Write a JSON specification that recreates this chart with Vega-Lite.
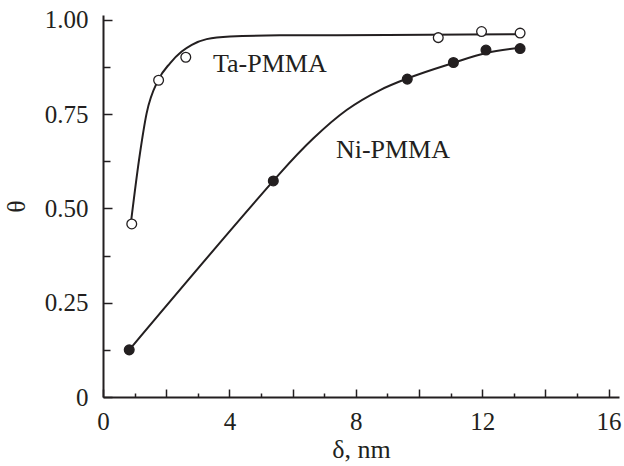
{
  "$schema": "https://vega.github.io/schema/vega-lite/v6.json",
  "width": 516,
  "height": 382,
  "autosize": "none",
  "padding": {"left": 103, "top": 15, "right": 5, "bottom": 69},
  "background": "white",
  "config": {
    "view": {"stroke": null},
    "font": "Liberation Serif",
    "axis": {
      "grid": false,
      "domainColor": "#231f20",
      "domainWidth": 2,
      "tickColor": "#231f20",
      "tickWidth": 1.5,
      "labelColor": "#231f20",
      "labelFont": "Liberation Serif",
      "labelFontSize": 25,
      "labelFlush": false,
      "labelOverlap": false,
      "titleColor": "#231f20",
      "titleFont": "Liberation Serif",
      "titleFontSize": 26,
      "titleFontWeight": "normal"
    }
  },
  "datasets": {
    "curves": [
      {"series": "Ta-PMMA", "x": 0.88, "y": 0.46},
      {"series": "Ta-PMMA", "x": 1.17, "y": 0.646},
      {"series": "Ta-PMMA", "x": 1.38, "y": 0.752},
      {"series": "Ta-PMMA", "x": 1.75, "y": 0.841},
      {"series": "Ta-PMMA", "x": 2.12, "y": 0.885},
      {"series": "Ta-PMMA", "x": 2.49, "y": 0.916},
      {"series": "Ta-PMMA", "x": 2.81, "y": 0.934},
      {"series": "Ta-PMMA", "x": 3.28, "y": 0.949},
      {"series": "Ta-PMMA", "x": 4.02, "y": 0.956},
      {"series": "Ta-PMMA", "x": 5.6, "y": 0.959},
      {"series": "Ta-PMMA", "x": 9.0, "y": 0.96},
      {"series": "Ta-PMMA", "x": 13.2, "y": 0.962},
      {"series": "Ni-PMMA", "x": 0.83, "y": 0.125},
      {"series": "Ni-PMMA", "x": 5.39, "y": 0.573},
      {"series": "Ni-PMMA", "x": 5.6, "y": 0.593},
      {"series": "Ni-PMMA", "x": 6.66, "y": 0.686},
      {"series": "Ni-PMMA", "x": 7.71, "y": 0.761},
      {"series": "Ni-PMMA", "x": 8.77, "y": 0.814},
      {"series": "Ni-PMMA", "x": 9.64, "y": 0.845},
      {"series": "Ni-PMMA", "x": 11.09, "y": 0.886},
      {"series": "Ni-PMMA", "x": 12.12, "y": 0.912},
      {"series": "Ni-PMMA", "x": 13.2, "y": 0.926}
    ],
    "points": [
      {"series": "Ta-PMMA", "x": 0.91, "y": 0.459},
      {"series": "Ta-PMMA", "x": 1.76, "y": 0.84},
      {"series": "Ta-PMMA", "x": 2.62, "y": 0.901},
      {"series": "Ta-PMMA", "x": 10.61, "y": 0.953},
      {"series": "Ta-PMMA", "x": 11.98, "y": 0.969},
      {"series": "Ta-PMMA", "x": 13.2, "y": 0.965},
      {"series": "Ni-PMMA", "x": 0.83, "y": 0.125},
      {"series": "Ni-PMMA", "x": 5.39, "y": 0.573},
      {"series": "Ni-PMMA", "x": 9.63, "y": 0.843},
      {"series": "Ni-PMMA", "x": 11.09, "y": 0.887},
      {"series": "Ni-PMMA", "x": 12.12, "y": 0.92},
      {"series": "Ni-PMMA", "x": 13.2, "y": 0.924}
    ],
    "labels": [
      {"text": "Ta-PMMA", "x": 3.48, "y": 0.862},
      {"text": "Ni-PMMA", "x": 7.37, "y": 0.633}
    ]
  },
  "layer": [
    {
      "data": {"name": "curves"},
      "mark": {"type": "point", "opacity": 0},
      "encoding": {
        "x": {"field": "x", "type": "quantitative", "scale": {"domain": [0, 16.33], "nice": false, "zero": false},
          "axis": {"orient": "bottom", "values": [1, 3, 5, 7, 9, 11, 13, 15], "tickSize": -4, "labels": false, "domain": false, "title": null}},
        "y": {"field": "y", "type": "quantitative", "scale": {"domain": [0, 1.013], "nice": false, "zero": false},
          "axis": {"orient": "left", "values": [0.125, 0.375, 0.625, 0.875], "tickSize": -7, "labels": false, "domain": false, "title": null}}
      }
    },
    {
      "data": {"name": "curves"},
      "mark": {"type": "line", "interpolate": "monotone", "color": "#231f20", "strokeWidth": 2},
      "encoding": {
        "x": {"field": "x", "type": "quantitative",
          "axis": {"orient": "bottom", "values": [0, 2, 4, 6, 8, 10, 12, 14, 16], "tickSize": -8, "labelExpr": "datum.value % 4 == 0 ? datum.label : ''", "labelPadding": 20, "title": "δ, nm", "titlePadding": 2}},
        "y": {"field": "y", "type": "quantitative",
          "axis": {"orient": "left", "values": [0, 0.25, 0.5, 0.75, 1.0], "tickSize": -9, "labelExpr": "datum.value == 0 ? '0' : format(datum.value, '.2f')", "labelPadding": 24, "title": "θ", "titlePadding": 15}},
        "detail": {"field": "series"}
      }
    },
    {
      "data": {"name": "points"},
      "mark": {"type": "point", "shape": "circle", "filled": true, "size": 95, "stroke": "#231f20", "strokeWidth": 1.3, "opacity": 1},
      "encoding": {
        "x": {"field": "x", "type": "quantitative", "axis": null},
        "y": {"field": "y", "type": "quantitative", "axis": null},
        "fill": {"field": "series", "type": "nominal", "scale": {"domain": ["Ta-PMMA", "Ni-PMMA"], "range": ["white", "#231f20"]}, "legend": null}
      }
    },
    {
      "data": {"name": "labels"},
      "mark": {"type": "text", "align": "left", "baseline": "alphabetic", "font": "Liberation Serif", "fontSize": 26, "color": "#231f20"},
      "encoding": {
        "x": {"field": "x", "type": "quantitative", "axis": null},
        "y": {"field": "y", "type": "quantitative", "axis": null},
        "text": {"field": "text"}
      }
    }
  ],
  "resolve": {"axis": {"x": "independent", "y": "independent"}}
}
